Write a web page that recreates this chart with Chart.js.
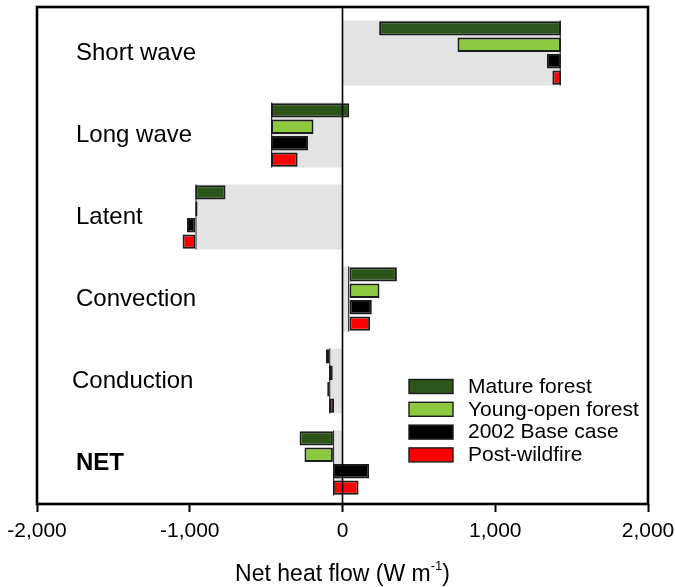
<!DOCTYPE html>
<html>
<head>
<meta charset="utf-8">
<script src="https://cdn.jsdelivr.net/npm/chart.js@4.4.1/dist/chart.umd.min.js"></script>
<style>
  html, body { margin: 0; padding: 0; background: #ffffff; }
  #c { display: block; }
</style>
</head>
<body>
<canvas id="c" width="675" height="587"></canvas>
<script>
// Heat-budget terms (W m-1)
const categories = ['Short wave', 'Long wave', 'Latent', 'Convection', 'Conduction', 'NET'];
// Reference flux of each term, drawn as the grey band from zero
const referenceFlux = [1430, -468, -964, 46, -88, -63];
// Scenario fluxes; each bar spans from the reference flux to the scenario flux
const matureForest    = [240, 44, -766, 356, -108, -281];
const youngOpenForest = [753, -190, -949, 242, -64, -249];
const baseCase2002    = [1338, -226, -1018, 192, -100, 175];
const postWildfire    = [1374, -294, -1047, 181, -55, 105];
const seriesNames = ['Mature forest', 'Young-open forest', '2002 Base case', 'Post-wildfire'];
const xTicks = [-2000, -1000, 0, 1000, 2000];
const axisTitle = ['Net heat flow (W m', '-1', ')'];

const FONT = '"Liberation Sans", Arial, Helvetica, sans-serif';
const fills = ['#2b5519', '#8cc840', '#000000', '#ff0000'];
const edge = '#1c1c1c';

const floating = vals => categories.map((_, i) => [referenceFlux[i], vals[i]]);
const series = [matureForest, youngOpenForest, baseCase2002, postWildfire];

const datasets = series.map((vals, k) => ({
  label: seriesNames[k],
  data: floating(vals),
  backgroundColor: fills[k],
  borderColor: edge,
  borderWidth: 2,
  borderSkipped: false,
  categoryPercentage: 0.8,
  barPercentage: 0.88
}));

// Grey band behind each group, outlined only at its far end
datasets.push({
  label: 'reference',
  data: referenceFlux,
  grouped: false,
  backgroundColor: '#e3e3e3',
  borderColor: '#333333',
  borderSkipped: false,
  borderWidth: ctx => {
    const v = ctx.raw;
    return { top: 0, bottom: 0, left: v < 0 ? 1.5 : 0, right: v > 0 ? 1.5 : 0 };
  },
  categoryPercentage: 0.8,
  barPercentage: 1
});

const decorations = {
  id: 'decorations',
  afterDatasetsDraw(chart) {
    const { ctx, chartArea: a, scales: { x, y } } = chart;
    const top = a.top - 5;
    ctx.save();

    // zero line
    const x0 = x.getPixelForValue(0);
    ctx.strokeStyle = '#000';
    ctx.lineWidth = 1.6;
    ctx.beginPath();
    ctx.moveTo(x0, top);
    ctx.lineTo(x0, a.bottom);
    ctx.stroke();

    // plot frame
    ctx.lineWidth = 2.6;
    ctx.strokeRect(a.left, top, a.right - a.left, a.bottom - top);

    // term names inside the plot
    ctx.fillStyle = '#000';
    ctx.textBaseline = 'middle';
    ctx.textAlign = 'left';
    categories.forEach((name, i) => {
      const bold = name === 'NET';
      ctx.font = (bold ? 'bold ' : '') + '24px ' + FONT;
      const dx = name === 'Conduction' ? 35 : 39;
      ctx.fillText(name, a.left + dx, y.getPixelForValue(i));
    });

    // legend
    ctx.font = '21px ' + FONT;
    const lx = a.left + 372, ly = 379.5, step = 22.8;
    seriesNames.forEach((name, k) => {
      const yy = ly + k * step;
      ctx.fillStyle = fills[k];
      ctx.fillRect(lx, yy, 44, 14);
      ctx.strokeStyle = edge;
      ctx.lineWidth = 1.4;
      ctx.strokeRect(lx, yy, 44, 14);
      ctx.fillStyle = '#000';
      ctx.fillText(name, lx + 59, yy + 7.5);
    });

    // axis title with superscript
    const ty = 575;
    ctx.font = '23px ' + FONT;
    const w0 = ctx.measureText(axisTitle[0]).width;
    ctx.font = '13px ' + FONT;
    const w1 = ctx.measureText(axisTitle[1]).width;
    ctx.font = '23px ' + FONT;
    const w2 = ctx.measureText(axisTitle[2]).width;
    let tx = x0 - (w0 + w1 + w2) / 2;
    ctx.fillText(axisTitle[0], tx, ty);
    tx += w0;
    ctx.font = '13px ' + FONT;
    ctx.fillText(axisTitle[1], tx, ty - 9);
    tx += w1;
    ctx.font = '23px ' + FONT;
    ctx.fillText(axisTitle[2], tx, ty);

    ctx.restore();
  }
};

new Chart(document.getElementById('c'), {
  type: 'bar',
  data: { labels: categories, datasets },
  options: {
    indexAxis: 'y',
    responsive: false,
    animation: false,
    devicePixelRatio: 1,
    layout: { padding: { left: 37, right: 27, top: 12, bottom: 0 } },
    plugins: { legend: { display: false }, tooltip: { enabled: false } },
    scales: {
      y: { display: false, offset: true },
      x: {
        type: 'linear',
        min: -2000,
        max: 2000,
        afterBuildTicks: s => { s.ticks = xTicks.map(v => ({ value: v })); },
        afterFit: s => { s.height = 83; s.paddingLeft = 0; s.paddingRight = 0; },
        ticks: {
          color: '#000',
          padding: 7,
          maxRotation: 0,
          autoSkip: false,
          font: { family: FONT, size: 21 },
          callback: v => v.toLocaleString('en-US')
        },
        grid: { drawOnChartArea: false, drawTicks: true, tickLength: 8, tickWidth: 2, tickColor: '#000' },
        border: { display: false }
      }
    }
  },
  plugins: [decorations]
});
</script>
</body>
</html>
